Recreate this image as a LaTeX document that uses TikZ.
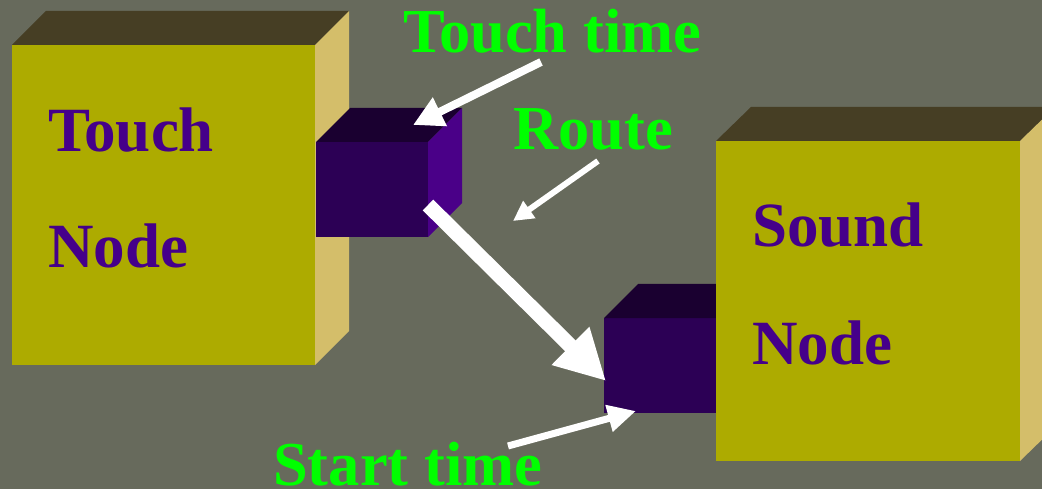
\documentclass[tikz,border=0pt]{standalone}
\usepackage{fontspec}
\setmainfont{Liberation Serif}
\usetikzlibrary{arrows.meta}
\definecolor{bgc}{HTML}{676A5C}
\definecolor{olivefront}{HTML}{ADAB00}
\definecolor{olivetop}{HTML}{463E24}
\definecolor{oliveside}{HTML}{D4BE6A}
\definecolor{cubefront}{HTML}{2C0055}
\definecolor{cubetop}{HTML}{1A0030}
\definecolor{cubeside}{HTML}{4A0088}
\definecolor{nodetext}{HTML}{45008A}
\definecolor{labeltext}{HTML}{00FF00}
\tikzset{
  bigtext/.style={anchor=base west, inner sep=0pt, text=nodetext, font=\bfseries\fontsize{63}{63}\selectfont},
  labeltxt/.style={anchor=base west, inner sep=0pt, text=labeltext, font=\bfseries\fontsize{62.5}{62.5}\selectfont},
  whitearrow/.style={draw=white, line cap=butt},
}
\begin{document}
\begin{tikzpicture}[x=1pt,y=-1pt]
\useasboundingbox (0,0) rectangle (1042,489);
\clip (0,0) rectangle (1042,489);
\fill[bgc] (0,0) rectangle (1042,489);
% Touch node box
\fill[olivefront] (12,45) rectangle (315,365);
\fill[olivetop] (12,45) -- (46,11) -- (349,11) -- (315,45) -- cycle;
\fill[oliveside] (315,45) -- (349,11) -- (349,331) -- (315,365) -- cycle;
% Touch time cube
\fill[cubefront] (316,142) rectangle (428,237);
\fill[cubetop] (316,142) -- (350,108) -- (462,108) -- (428,142) -- cycle;
\fill[cubeside] (428,142) -- (462,108) -- (462,203) -- (428,237) -- cycle;
% Start time cube
\fill[cubefront] (604,318) rectangle (720,413);
\fill[cubetop] (604,318) -- (638,284) -- (754,284) -- (720,318) -- cycle;
% Sound node box
\fill[olivefront] (716,141) rectangle (1020,461);
\fill[olivetop] (716,141) -- (751,107) -- (1055,107) -- (1020,141) -- cycle;
\fill[oliveside] (1020,141) -- (1055,107) -- (1055,427) -- (1020,461) -- cycle;
% texts
\node[bigtext] (touchA) at (48,152) {Touch};
\node[bigtext] (touchB) at (48,268) {Node};
\node[bigtext] (soundA) at (752,247) {Sound};
\node[bigtext] (soundB) at (752,364) {Node};
\node[labeltxt] (ttime) at (403,53) {Touch time};
\node[labeltxt] (route) at (513,150) {Route};
\node[labeltxt] (stime) at (273,485) {Start time};
% arrow ends
\coordinate (a1s) at (541,62);
\coordinate (a1e) at (413,125);
\coordinate (a2s) at (598,161);
\coordinate (a2e) at (513,221);
\coordinate (a3s) at (428,205);
\coordinate (a3e) at (606,381);
\coordinate (a4s) at (508,446);
\coordinate (a4e) at (636,411);
\draw[whitearrow, line width=8pt, -{Triangle[length=30pt,width=30pt]}] (a1s) -- (a1e);
\draw[whitearrow, line width=6pt, -{Triangle[length=20pt,width=20pt]}] (a2s) -- (a2e);
\draw[whitearrow, line width=15pt, -{Triangle[length=50pt,width=50pt]}] (a3s) -- (a3e);
\draw[whitearrow, line width=7pt, -{Triangle[length=28pt,width=26pt]}] (a4s) -- (a4e);
\end{tikzpicture}
\end{document}
